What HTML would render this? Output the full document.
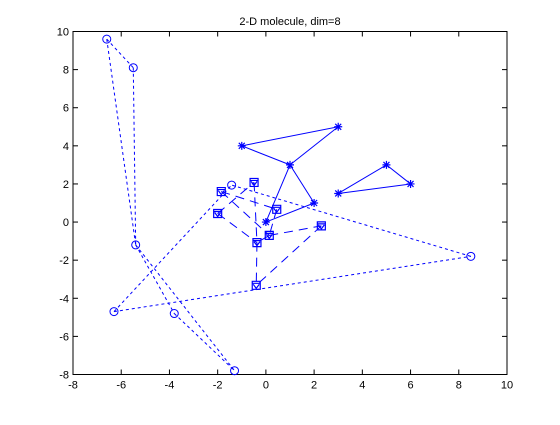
<!DOCTYPE html>
<html><head><meta charset="utf-8"><style>
body{margin:0;background:#fff;width:560px;height:420px;overflow:hidden}
svg text{font-family:"Liberation Sans",sans-serif;font-size:11px;fill:#000}
</style></head><body>
<svg id="chart" width="560" height="420" viewBox="0 0 560 420" xmlns="http://www.w3.org/2000/svg"></svg>
<script>
const xTicks=[-8,-6,-4,-2,0,2,4,6,8,10];
const yTicks=[-8,-6,-4,-2,0,2,4,6,8,10];
const circleX=[-6.6,-5.5,-5.4,-3.8,-1.3,-6.3,8.5,-1.42];
const circleY=[9.6,8.1,-1.2,-4.8,-7.8,-4.7,-1.8,1.94];
const circleEdges=[[0,1],[1,2],[0,2],[2,3],[2,4],[3,4],[5,7],[5,6],[6,7]];
const starX=[-1,3,1,2,0,3,5,6];
const starY=[4,5,3,1,0,1.5,3,2];
const starEdges=[[0,1],[1,2],[0,2],[2,3],[2,4],[4,3],[5,6],[6,7],[7,5]];
const sqX=[-1.85,-0.49,-2.0,0.45,0.14,-0.37,2.3,-0.4];
const sqY=[1.6,2.08,0.45,0.67,-0.7,-1.08,-0.2,-3.32];
const sqEdges=[[0,3],[0,4],[2,1],[2,5],[1,5],[3,4],[4,5],[4,6],[6,7],[5,7]];

const L=73,R=507,T=31.5,B=374.5;
const sx=v=>L+(v+8)/18*(R-L);
const sy=v=>B-(v+8)/18*(B-T);
const svg=document.getElementById('chart');
const NS='http://www.w3.org/2000/svg';
function mk(tag,attrs,parent){const e=document.createElementNS(NS,tag);for(const k in attrs)e.setAttribute(k,attrs[k]);(parent||svg).appendChild(e);return e;}

const ax=mk('rect',{x:L,y:T,width:R-L,height:B-T,fill:'#fff',stroke:'#000','stroke-width':1});


xTicks.forEach(v=>{
  const x=sx(v);
  const t1=mk('line',{x1:x,y1:B,x2:x,y2:B-5,stroke:'#000'});
  
  
  const t2=mk('line',{x1:x,y1:T,x2:x,y2:T+5,stroke:'#000'});
  
  
  const tx=mk('text',{x:x,y:B+14,'text-anchor':'middle'});tx.textContent=v;
  
  
});
yTicks.forEach(v=>{
  const y=sy(v);
  const t1=mk('line',{x1:L,y1:y,x2:L+5,y2:y,stroke:'#000'});
  
  
  const t2=mk('line',{x1:R,y1:y,x2:R-5,y2:y,stroke:'#000'});
  
  
  const tx=mk('text',{x:L-4,y:y+4,'text-anchor':'end'});tx.textContent=v;
  
  
});
const title=mk('text',{x:(L+R)/2,y:25,'text-anchor':'middle'});
title.textContent='2-D molecule, dim=8';



const C='#0000ff';
function edges(X,Y,E,dash,name){
  E.forEach(([a,b])=>{
    const l=mk('line',{x1:sx(X[a]),y1:sy(Y[a]),x2:sx(X[b]),y2:sy(Y[b]),stroke:C,'stroke-width':1,'stroke-dasharray':dash});
    
    
  });
}
edges(circleX,circleY,circleEdges,'3,3','circle-bond');
edges(starX,starY,starEdges,'none','star-bond');
edges(sqX,sqY,sqEdges,'9,6','square-bond');

circleX.forEach((v,i)=>{
  const c=mk('circle',{cx:sx(v),cy:sy(circleY[i]),r:4,fill:'none',stroke:C});
  
  
});
starX.forEach((v,i)=>{
  const x=sx(v),y=sy(starY[i]);
  const g=mk('path',{d:`M${x-4},${y}H${x+4}M${x},${y-4}V${y+4}M${x-3},${y-3}L${x+3},${y+3}M${x-3},${y+3}L${x+3},${y-3}`,stroke:C,'stroke-width':1.2,fill:'none'});
  
  
});
sqX.forEach((v,i)=>{
  const x=sx(v),y=sy(sqY[i]);
  const g=mk('path',{d:`M${x-4},${y-4}h8v8h-8zM${x-4},${y-2}h8M${x-3},${y-1}L${x},${y+3}L${x+3},${y-1}`,stroke:C,'stroke-width':1.2,fill:'none'});
  
  
});
</script>
</body></html>
